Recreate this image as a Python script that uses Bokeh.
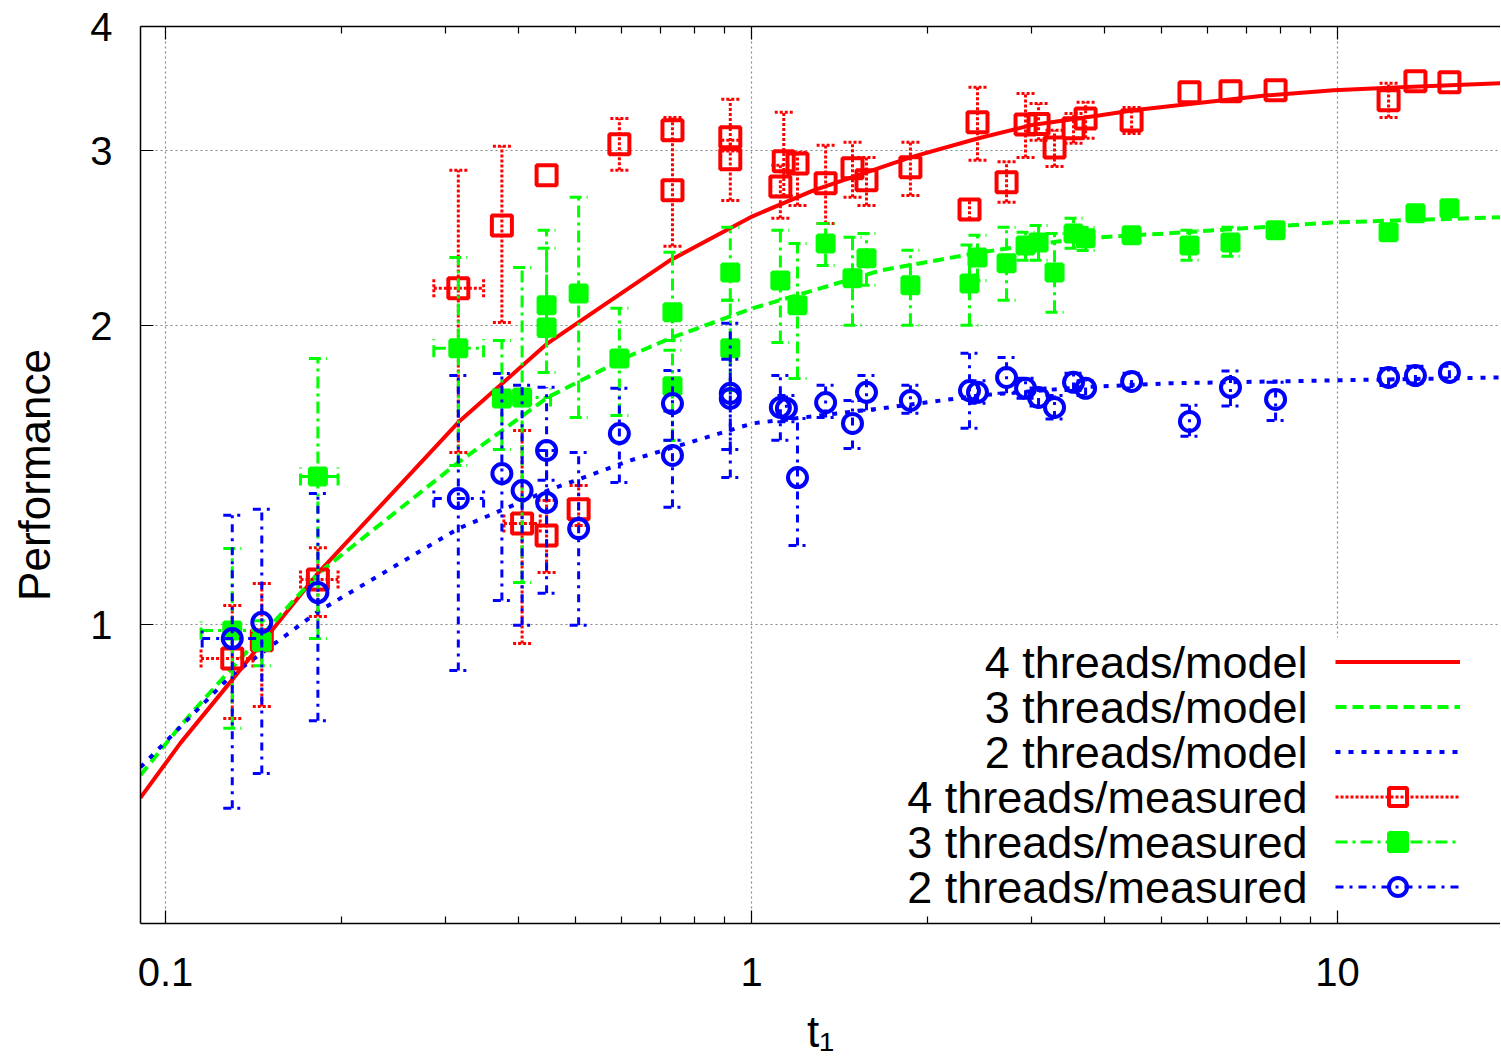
import math
from bokeh.plotting import figure
from bokeh.models import (FixedTicker, LogAxis, Legend, LegendItem, Label,
                          BoxAnnotation, CustomJSTickFormatter)
from bokeh.core.properties import value
from bokeh.embed import file_html
from bokeh.resources import INLINE

# ---------------- data ----------------
x_ticks = [0.1, 1, 10]
y_ticks = [1, 2, 3, 4]

legend_labels = ["4 threads/model", "3 threads/model", "2 threads/model",
                 "4 threads/measured", "3 threads/measured", "2 threads/measured"]

# model curves
red_model_x = [0.0906, 0.1061, 0.1296, 0.1824, 0.316, 0.4487, 0.5524, 0.7257, 1.004, 1.276,
               1.867, 2.44, 2.993, 3.94, 4.487, 7.596, 9.844, 12.81, 18.97]
red_model_y = [0.669, 0.760, 0.878, 1.128, 1.598, 1.919, 2.086, 2.326, 2.576, 2.736,
               2.953, 3.087, 3.181, 3.256, 3.294, 3.41, 3.45, 3.474, 3.507]

green_model_x = [0.0906, 0.1061, 0.1296, 0.1824, 0.316, 0.4487, 0.6217, 0.7314, 1.004, 1.66,
                 2.46, 3.642, 5.128, 9.844, 18.97]
green_model_y = [0.705, 0.791, 0.903, 1.126, 1.456, 1.693, 1.866, 1.945, 2.081, 2.272,
                 2.37, 2.448, 2.476, 2.54, 2.57]

blue_model_x = [0.0906, 0.1296, 0.1824, 0.316, 0.4487, 0.6217, 1.004, 1.66, 2.46, 3.642,
                5.128, 9.844, 18.97]
blue_model_y = [0.718, 0.889, 1.031, 1.249, 1.364, 1.463, 1.594, 1.65, 1.701, 1.733,
                1.749, 1.761, 1.773]

# 4 threads measured
red_x = [0.130, 0.146, 0.182, 0.316, 0.375, 0.406, 0.447, 0.447, 0.507, 0.595, 0.733, 0.733,
         0.920, 0.920, 1.12, 1.135, 1.198, 1.338, 1.487, 1.571, 1.867, 2.355, 2.43, 2.724,
         2.935, 3.089, 3.289, 3.544, 3.716, 4.452, 5.589, 6.566, 7.839, 12.22, 13.58, 15.52]
red_y = [0.924, 0.964, 1.11, 2.18, 2.522, 1.264, 1.229, 2.833, 1.306, 3.044, 3.145, 2.736,
         3.094, 2.94, 2.761, 2.926, 2.912, 2.781, 2.879, 2.80, 2.886, 2.617, 3.203, 2.787,
         3.188, 3.19, 3.022, 3.159, 3.232, 3.217, 3.434, 3.442, 3.45, 3.371, 3.523, 3.515]
red_ylo = [0.804, 0.827, 1.019, 1.49, 2.014, 0.957, 1.128, 2.833, 1.258, 2.866, 3.073, 2.403,
           2.997, 2.673, 2.564, 2.70, 2.642, 2.534, 2.692, 2.642, 2.704, 2.558, 2.933, 2.661,
           2.953, 3.073, 2.892, 3.051, 3.087, 3.122, 3.434, 3.442, 3.45, 3.24, 3.523, 3.515]
red_yhi = [1.045, 1.10, 1.195, 2.866, 3.03, 1.568, 1.333, 2.833, 1.38, 3.232, 3.24, 3.073,
           3.379, 3.073, 2.9, 3.279, 2.988, 3.037, 3.058, 2.953, 3.058, 2.679, 3.474, 2.924,
           3.425, 3.347, 3.145, 3.27, 3.355, 3.316, 3.434, 3.442, 3.45, 3.507, 3.523, 3.515]
red_xlo = [0.115, None, 0.170, 0.287, None, 0.378] + [None] * 30
red_xhi = [0.141, None, 0.197, 0.349, None, 0.436] + [None] * 30

# 3 threads measured
green_x = [0.130, 0.146, 0.182, 0.316, 0.375, 0.406, 0.447, 0.447, 0.507, 0.595, 0.733, 0.733,
           0.920, 0.920, 1.12, 1.198, 1.338, 1.487, 1.571, 1.867, 2.355, 2.43, 2.724, 2.935,
           3.089, 3.289, 3.544, 3.716, 4.452, 5.589, 6.566, 7.839, 12.22, 13.58, 15.52]
green_y = [0.986, 0.961, 1.409, 1.897, 1.689, 1.693, 2.096, 1.991, 2.154, 1.853, 2.062, 1.737,
           2.262, 1.897, 2.22, 2.096, 2.419, 2.231, 2.337, 2.195, 2.205, 2.342, 2.31, 2.408,
           2.425, 2.262, 2.476, 2.448, 2.465, 2.408, 2.425, 2.494, 2.482, 2.594, 2.624]
green_ylo = [0.786, 0.909, 0.968, 1.446, 1.50, 1.102, 1.95, 1.794, 1.616, 1.623, 1.932, 1.532,
             2.12, 1.72, 1.923, 1.769, 2.299, 2.001, 2.195, 2.001, 2.001, 2.22, 2.12, 2.326,
             2.326, 2.062, 2.392, 2.38, 2.465, 2.326, 2.348, 2.494, 2.482, 2.594, 2.624]
green_yhi = [1.193, 1.009, 1.853, 2.342, 1.932, 2.288, 2.494, 2.392, 2.692, 2.081, 2.37, 1.888,
             2.511, 2.12, 2.494, 2.419, 2.534, 2.454, 2.476, 2.381, 2.41, 2.465, 2.511, 2.482,
             2.522, 2.476, 2.564, 2.51, 2.465, 2.494, 2.511, 2.494, 2.482, 2.594, 2.624]
green_xlo = [0.115, None, 0.170, 0.287, None, 0.363] + [None] * 29
green_xhi = [0.146, None, 0.197, 0.349, None, 0.454] + [None] * 29

# 2 threads measured
blue_x = [0.130, 0.146, 0.182, 0.316, 0.375, 0.406, 0.447, 0.447, 0.507, 0.595, 0.733, 0.733,
          0.920, 0.920, 1.12, 1.147, 1.198, 1.338, 1.487, 1.571, 1.867, 2.355, 2.43, 2.724,
          2.935, 3.089, 3.289, 3.544, 3.716, 4.452, 5.589, 6.566, 7.839, 12.22, 13.58, 15.52]
blue_y = [0.968, 1.005, 1.077, 1.339, 1.419, 1.364, 1.497, 1.327, 1.249, 1.557, 1.669, 1.48,
          1.709, 1.689, 1.654, 1.65, 1.406, 1.673, 1.594, 1.713, 1.681, 1.72, 1.713, 1.773,
          1.729, 1.693, 1.654, 1.753, 1.729, 1.757, 1.601, 1.733, 1.685, 1.773, 1.781, 1.794]
blue_ylo = [0.653, 0.708, 0.80, 0.899, 1.057, 0.998, 1.397, 1.075, 0.998, 1.39, 1.533, 1.312,
            1.406, 1.50, 1.533, 1.60, 1.201, 1.616, 1.504, 1.643, 1.632, 1.576, 1.67, 1.709,
            1.69, 1.66, 1.61, 1.72, 1.70, 1.73, 1.547, 1.66, 1.605, 1.74, 1.75, 1.77]
blue_yhi = [1.288, 1.306, 1.355, 1.781, 1.789, 1.741, 1.733, 1.497, 1.49, 1.729, 1.802, 1.64,
            2.01, 1.85, 1.781, 1.70, 1.612, 1.741, 1.681, 1.781, 1.741, 1.875, 1.76, 1.857,
            1.77, 1.73, 1.70, 1.79, 1.76, 1.79, 1.662, 1.80, 1.753, 1.81, 1.82, 1.82]
blue_xlo = [0.1155, None, None, 0.287] + [None] * 32
blue_xhi = [0.146, None, None, 0.349] + [None] * 32

# ---------------- styling ----------------
FONT = "Liberation Sans"
RED, GREEN, BLUE = "#ff0000", "#00ff00", "#0000ff"
W, H = 1500, 1058

p = figure(width=W, height=H, x_axis_type="log", y_axis_type="log",
           x_range=(0.09065, 18.97), y_range=(0.5, 4.0),
           output_backend="svg", toolbar_location=None,
           min_border_left=140, min_border_right=0, min_border_top=26,
           min_border_bottom=H - 923,
           background_fill_color="white", border_fill_color="white")
p.outline_line_color = None

minor_x = [m * d for d in (0.1, 1.0) for m in range(2, 10)]
xt = FixedTicker(ticks=x_ticks, minor_ticks=minor_x)
yt = FixedTicker(ticks=y_ticks, minor_ticks=[])
fmt = CustomJSTickFormatter(code="return String(tick)")

for ax, tk in ((p.xaxis[0], xt), (p.yaxis[0], yt)):
    ax.ticker = tk
    ax.formatter = fmt
    ax.major_tick_in = 13
    ax.major_tick_out = 0
    ax.minor_tick_in = 7
    ax.minor_tick_out = 0
    ax.axis_line_width = 1.5
    ax.axis_line_color = "black"
    ax.major_tick_line_width = 1.2
    ax.minor_tick_line_width = 1.2
    ax.major_label_text_font = FONT
    ax.major_label_text_font_size = "40px"
    ax.major_label_text_color = "black"
    ax.axis_label_text_font = FONT
    ax.axis_label_text_font_size = "44px"
    ax.axis_label_text_font_style = "normal"
    ax.axis_label_text_color = "black"
p.yaxis.minor_tick_line_color = None
p.xaxis.major_label_standoff = 34
p.yaxis.major_label_standoff = 28
p.xaxis.axis_label = "t₁"
p.yaxis.axis_label = "Performance"
p.xaxis.axis_label_standoff = 18
p.yaxis.axis_label_standoff = 28

top = LogAxis(ticker=xt, formatter=CustomJSTickFormatter(code="return ''"),
              major_tick_in=13, major_tick_out=0, minor_tick_in=7, minor_tick_out=0,
              major_label_text_font_size="0px", major_label_standoff=0,
              axis_line_width=1.5, major_tick_line_width=1.2, minor_tick_line_width=1.2)
p.add_layout(top, "above")

p.xgrid.ticker = xt
p.ygrid.ticker = yt
for g in (p.xgrid[0], p.ygrid[0]):
    g.grid_line_color = "#888888"
    g.grid_line_dash = "2 3"
    g.grid_line_width = 1.2
    g.minor_grid_line_color = None

# white box behind the key (hides grid there)
p.add_layout(BoxAnnotation(left=760, right=1330, bottom=13, top=286,
                           left_units="screen", right_units="screen",
                           bottom_units="screen", top_units="screen",
                           fill_color="white", fill_alpha=1.0, line_color=None,
                           level="underlay"))

# model curves
r_m4 = p.line(red_model_x, red_model_y, line_color=RED, line_width=4)
r_m3 = p.line(green_model_x, green_model_y, line_color=GREEN, line_width=4, line_dash="11 6")
r_m2 = p.line(blue_model_x, blue_model_y, line_color=BLUE, line_width=4, line_dash="5 8")


def measured(xs, ys, ylo, yhi, xlo, xhi, color, dash, marker, msize, filled):
    vx = [x for x, a, b in zip(xs, ylo, yhi) if a != b]
    vlo = [a for a, b in zip(ylo, yhi) if a != b]
    vhi = [b for a, b in zip(ylo, yhi) if a != b]
    seg = p.segment(x0=vx, y0=vlo, x1=vx, y1=vhi, line_color=color, line_width=3,
                    line_dash=dash)
    p.scatter(vx + vx, vlo + vhi, marker="dash", size=18, line_color=color,
              line_width=3, line_dash=dash)
    hy = [y for y, a in zip(ys, xlo) if a is not None]
    hlo = [a for a in xlo if a is not None]
    hhi = [b for b in xhi if b is not None]
    p.segment(x0=hlo, y0=hy, x1=hhi, y1=hy, line_color=color, line_width=3, line_dash=dash)
    p.scatter(hlo + hhi, hy + hy, marker="dash", angle=math.pi / 2, size=18,
              line_color=color, line_width=3, line_dash=dash)
    mk = p.scatter(xs, ys, marker=marker, size=msize, line_color=color, line_width=4,
                   fill_color=color if filled else None)
    return seg, mk


s4, m4 = measured(red_x, red_y, red_ylo, red_yhi, red_xlo, red_xhi, RED, "3 2", "square", 20, False)
s3, m3 = measured(green_x, green_y, green_ylo, green_yhi, green_xlo, green_xhi, GREEN,
                  "12 5 3 5", "square", 16, True)
s2, m2 = measured(blue_x, blue_y, blue_ylo, blue_yhi, blue_xlo, blue_xhi, BLUE,
                  "8 6 3 6", "circle", 19, False)

groups = [[r_m4], [r_m3], [r_m2], [s4, m4], [s3, m3], [s2, m2]]
legend = Legend(items=[LegendItem(label=value(""), renderers=g) for g in groups],
                location=(1195, 14), glyph_width=125, glyph_height=45,
                label_standoff=0, label_width=0, label_height=45, label_text_font_size="1px",
                padding=0, spacing=0, margin=0, border_line_color=None,
                background_fill_alpha=0)
p.add_layout(legend)

for i, t in enumerate(legend_labels):
    p.add_layout(Label(x=1167, y=261.5 - 45 * i, x_units="screen", y_units="screen",
                       text=t, text_align="right", text_baseline="middle",
                       text_font=FONT, text_font_size="45px", text_color="black"))

open("out.html", "w").write(file_html(p, INLINE))
